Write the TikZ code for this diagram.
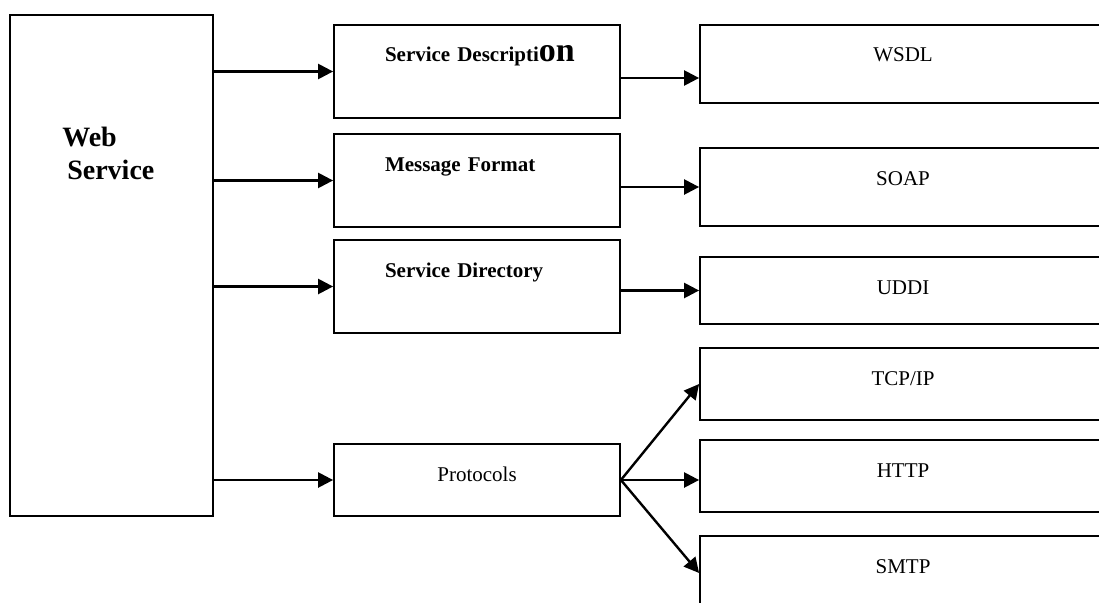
\documentclass[tikz,border=0pt]{standalone}
\usepackage{fontspec}
\setmainfont{Liberation Serif}
\usetikzlibrary{positioning,arrows.meta}

\begin{document}
\begin{tikzpicture}[
  x=1pt, y=-1pt,
  box/.style={draw, line width=1.8pt, inner sep=0pt, text height=37pt, font=\fontsize{21}{24}\selectfont},
  part/.style={box, text width=286pt, align=left, font=\bfseries\fontsize{21}{24}\selectfont},
  std/.style={box, minimum width=406pt},
  title/.style={font=\bfseries\fontsize{28}{32}\selectfont, anchor=base west, inner sep=0pt},
  arr/.style={-{Triangle[length=15pt, width=15pt]}, line width=2.4pt}
]
\clip (0,0) rectangle (1099,602);

% web service block
\node[box, minimum width=203pt, minimum height=501pt] (ws) at (111.5,265.5) {};
\node[title] (wsweb) at ([shift={(53pt,-132pt)}]ws.north west) {Web};
\node[title] (wsserv) at ([shift={(5pt,-33pt)}]wsweb.base west) {Service};

% middle nodes
\node[part, text depth=56pt] (sdesc) at (477,71.5) {\hspace*{51pt}Service Descripti{\fontsize{34}{34}\selectfont on}};
\node[part, text depth=56pt] (msg) at (477,180.5) {\hspace*{51pt}Message Format};
\node[part, text depth=56pt] (sdir) at (477,286.5) {\hspace*{51pt}Service Directory};
\node[box, minimum width=286pt, text depth=35pt] (prot) at (477,480) {Protocols};

% right nodes
\node[std, text depth=41pt] (wsdl) at (903,64) {WSDL};
\node[std, text depth=41pt] (soap) at (903,187) {SOAP};
\node[std, text depth=30pt] (uddi) at (903,290.5) {UDDI};
\node[std, text depth=35pt] (tcp) at (903,384) {TCP/IP};
\node[std, text depth=35pt] (http) at (903,476) {HTTP};
\node[std, text depth=37pt] (smtp) at (903,573) {SMTP};
\coordinate (wsdlin) at ([yshift=-14pt]wsdl.west);

% arrows
\draw[arr] (sdesc.west -| ws.east) -- (sdesc.west);
\draw[arr] (msg.west -| ws.east) -- (msg.west);
\draw[arr] (sdir.west -| ws.east) -- (sdir.west);
\draw[arr] (prot.west -| ws.east) -- (prot.west);
\draw[arr] (wsdlin -| sdesc.east) -- (wsdlin);
\draw[arr] (soap.west -| msg.east) -- (soap.west);
\draw[arr] (uddi.west -| sdir.east) -- (uddi.west);
\draw[arr] (prot.east) -- (tcp.west);
\draw[arr] (prot.east) -- (prot.east -| http.west);
\draw[arr] (prot.east) -- (smtp.west);

\end{tikzpicture}
\end{document}
